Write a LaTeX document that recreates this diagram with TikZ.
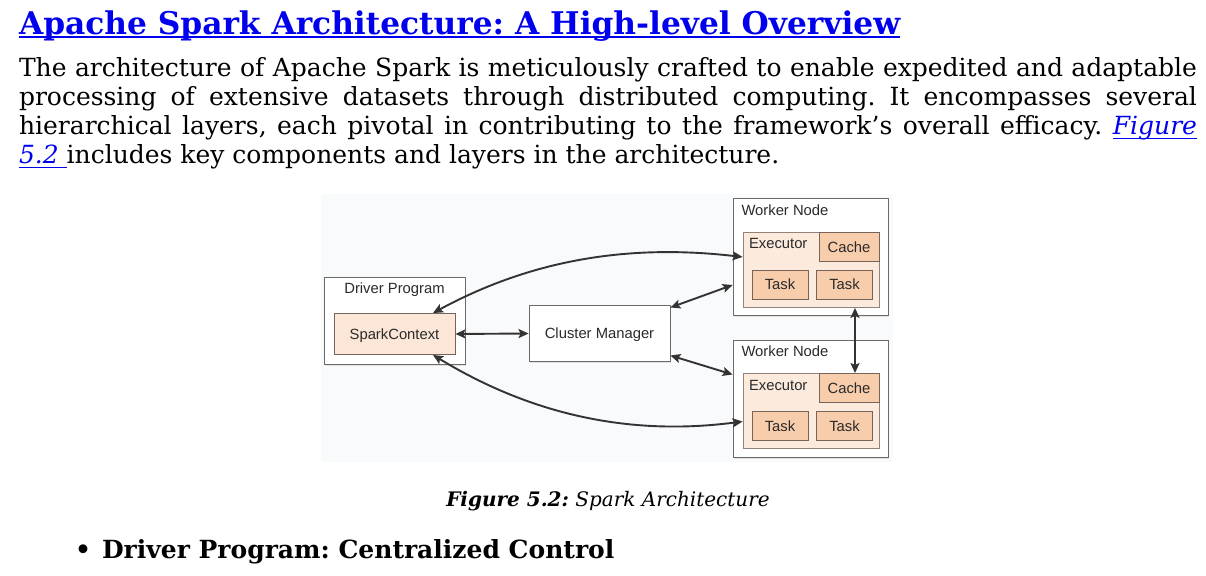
\documentclass[tikz,border=0pt]{standalone}
\usepackage{fontspec}
\setmainfont{DejaVu Serif}
\newfontfamily\diagfont{Liberation Sans}
\usetikzlibrary{arrows.meta,shadows}
\definecolor{linkblue}{HTML}{0000EE}
\definecolor{figbg}{HTML}{F9FAFC}
\definecolor{boxline}{HTML}{6A6A6A}
\definecolor{innerline}{HTML}{76645A}
\definecolor{sparkfill}{HTML}{FBE6D8}
\definecolor{execfill}{HTML}{FCEBDD}
\definecolor{taskfill}{HTML}{F8CDAB}
\definecolor{arrowcol}{HTML}{333333}
\definecolor{diagtext}{HTML}{2A2A2A}
\newcommand\myul[3][1.3bp]{\setbox0\hbox{#3}\rlap{\rule[-#2]{\wd0}{#1}}\box0}
\newcommand\paraline[1]{\makebox[1178bp][s]{#1}}
\frenchspacing
\begin{document}
\begin{tikzpicture}[x=1bp,y=-1bp,
  txt/.style={anchor=base west,inner sep=0,outer sep=0},
  outerbox/.style={draw=boxline,line width=0.9bp,fill=white,inner sep=0,
    drop shadow={opacity=0.18,shadow xshift=1.2bp,shadow yshift=-1.6bp}},
  innerbox/.style={draw=innerline,line width=0.9bp,inner sep=0,font=\diagfont\fontsize{14.8bp}{17bp}\selectfont,text=diagtext,
    text height=10.6bp,text depth=0pt},
  tasknode/.style={innerbox,fill=taskfill,minimum width=56bp,minimum height=29bp},
  cachenode/.style={innerbox,fill=taskfill,minimum width=60bp,minimum height=29bp},
  execnode/.style={draw=innerline!80,line width=0.8bp,fill=execfill,inner sep=0,minimum width=136bp,minimum height=75bp},
  diaglabel/.style={inner sep=0,outer sep=0,font=\diagfont\fontsize{14.8bp}{17bp}\selectfont,text=diagtext},
  link/.style={arrowcol,line width=1.9bp,{Stealth[length=10bp,width=9bp,inset=2bp]}-{Stealth[length=10bp,width=9bp,inset=2bp]}}
]
\useasboundingbox (0,0) rectangle (1206,576);
\fill[white] (0,0) rectangle (1206,576);

% ---- text ----
\node[txt,text=linkblue,font=\bfseries\fontsize{31.25bp}{36bp}\selectfont] (title) at (19,34.5)
  {\myul[2.4bp]{3.6bp}{Apache Spark Architecture: A High-level Overview}};
\begin{scope}[every node/.style={txt,font=\fontsize{25bp}{29bp}\selectfont}]
\node (p1) at (19,77) {\paraline{The architecture of Apache Spark is meticulously crafted to enable expedited and adaptable}};
\node (p2) at (19,106) {\paraline{processing of extensive datasets through distributed computing. It encompasses several}};
\node (p3) at (19,135) {\paraline{hierarchical layers, each pivotal in contributing to the framework’s overall efficacy. {\color{linkblue}\myul{4bp}{\itshape Figure}}}};
\node (p4) at (19,164) {{\color{linkblue}\myul{4bp}{\itshape 5.2 }}includes key components and layers in the architecture.};
\end{scope}

% ---- figure ----
\fill[figbg] (321,194) rectangle (893,462);

\node[outerbox,minimum width=141bp,minimum height=87bp] (driver) at (394.5,321) {};
\node[diaglabel,anchor=base] (driverlbl) at (394.5,294) {Driver Program};
\node[innerbox,fill=sparkfill,minimum width=121bp,minimum height=41bp] (spark) at (394.5,334) {SparkContext};

\node[outerbox,innerbox,draw=boxline,fill=white,minimum width=141bp,minimum height=56bp] (cm) at (599.5,333.5) {Cluster Manager};

\node[outerbox,minimum width=155bp,minimum height=117bp] (w1) at (810.5,257) {};
\node[diaglabel,anchor=base west] (w1lbl) at (741.5,216) {Worker Node};
\node[execnode] (e1) at (811,270) {};
\node[diaglabel,anchor=base west] (e1lbl) at (749,249) {Executor};
\node[cachenode] (c1) at (849,247) {Cache};
\node[tasknode] (t1a) at (780,284.5) {Task};
\node[tasknode] (t1b) at (844.5,284.5) {Task};

\node[outerbox,minimum width=155bp,minimum height=117bp] (w2) at (810.5,399) {};
\node[diaglabel,anchor=base west] (w2lbl) at (741.5,357) {Worker Node};
\node[execnode] (e2) at (811,410.5) {};
\node[diaglabel,anchor=base west] (e2lbl) at (749,390) {Executor};
\node[cachenode] (c2) at (849,388) {Cache};
\node[tasknode] (t2a) at (780,426) {Task};
\node[tasknode] (t2b) at (844.5,426) {Task};

% ---- connectors ----
\draw[link] (spark.east) -- (cm.west);
\draw[link] ([yshift=26bp]cm.east) -- ([yshift=-28bp]w1.west);
\draw[link] ([yshift=-22bp]cm.east) -- ([yshift=24.5bp]w2.west);
\draw[link] ([xshift=38.5bp]spark.north) .. controls (540,255) and (640,245) .. ([yshift=13bp]e1.west);
\draw[link] ([xshift=38.5bp]spark.south) .. controls (540,420) and (640,435) .. ([yshift=-11bp]e2.west);
\draw[link] ([xshift=44bp]e1.south) -- ([xshift=44bp]e1.south |- c2.north);

% ---- caption & bullet ----
\node[txt,anchor=base,font=\fontsize{20bp}{24bp}\selectfont] (caption) at (608,506)
  {\textbf{\textit{Figure 5.2:}} \textit{Spark Architecture}};
\node[txt,anchor=base,font=\bfseries\fontsize{25bp}{29bp}\selectfont] (bullet) at (83,558) {•};
\node[txt,font=\bfseries\fontsize{25bp}{29bp}\selectfont] (item) at (102,558) {Driver Program: Centralized Control};
\end{tikzpicture}
\end{document}
